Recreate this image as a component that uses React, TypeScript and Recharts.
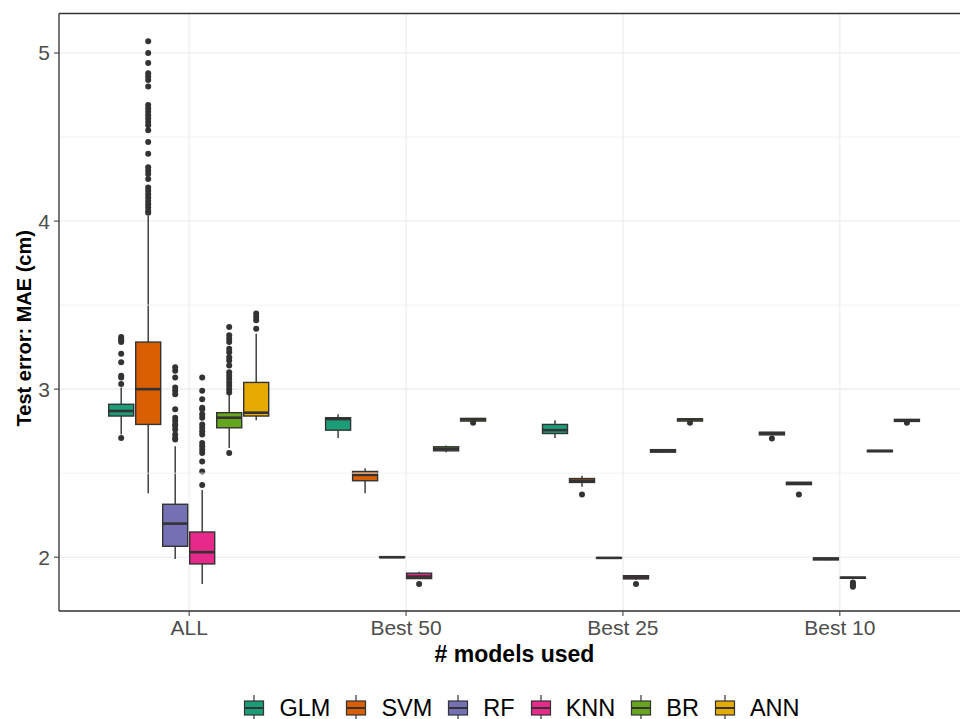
import React from "react";
import {
  BarChart,
  Bar,
  XAxis,
  YAxis,
  CartesianGrid,
  ReferenceLine,
  Legend,
} from "recharts";

const CATEGORIES = ["ALL", "Best 50", "Best 25", "Best 10"];
const MODELS = ["GLM", "SVM", "RF", "KNN", "BR", "ANN"];
const COLORS = ["#1B9E77", "#D95F02", "#7570B3", "#E7298A", "#66A61E", "#E6AB02"];
const Y_TICKS = [2, 3, 4, 5];
const MINOR_TICKS = [2.5, 3.5, 4.5];
const Y_MIN = 1.68;
const Y_MAX = 5.235;

// [lower whisker, q1, median, q3, upper whisker] per category
const GLM_STATS = [
  [2.73, 2.84, 2.87, 2.91, 3.01],
  [2.71, 2.756, 2.822, 2.83, 2.85],
  [2.71, 2.736, 2.756, 2.79, 2.815],
  [2.726, 2.728, 2.736, 2.744, 2.746],
];
const SVM_STATS = [
  [2.38, 2.79, 3.0, 3.28, 4.03],
  [2.38, 2.455, 2.49, 2.51, 2.53],
  [2.42, 2.445, 2.455, 2.468, 2.484],
  [2.43, 2.432, 2.44, 2.446, 2.448],
];
const RF_STATS = [
  [1.99, 2.065, 2.2, 2.315, 2.66],
  [1.997, 1.998, 2.0, 2.002, 2.004],
  [1.994, 1.995, 1.996, 1.997, 1.998],
  [1.982, 1.984, 1.99, 1.996, 1.998],
];
const KNN_STATS = [
  [1.84, 1.96, 2.03, 2.15, 2.4],
  [1.873, 1.873, 1.885, 1.905, 1.913],
  [1.865, 1.871, 1.88, 1.89, 1.892],
  [1.873, 1.875, 1.878, 1.881, 1.883],
];
const BR_STATS = [
  [2.65, 2.77, 2.83, 2.86, 2.97],
  [2.625, 2.633, 2.645, 2.657, 2.665],
  [2.623, 2.625, 2.633, 2.64, 2.643],
  [2.627, 2.628, 2.632, 2.636, 2.637],
];
const ANN_STATS = [
  [2.815, 2.84, 2.86, 3.04, 3.33],
  [2.81, 2.81, 2.82, 2.826, 2.827],
  [2.81, 2.81, 2.82, 2.823, 2.824],
  [2.805, 2.808, 2.815, 2.82, 2.823],
];

// outliers per category
const GLM_OUT = [
  [2.71, 3.03, 3.07, 3.08, 3.16, 3.21, 3.28, 3.29, 3.3, 3.31],
  [],
  [],
  [2.706],
];
const SVM_OUT = [
  [
    4.05, 4.06, 4.08, 4.1, 4.12, 4.14, 4.16, 4.18, 4.2, 4.25, 4.28, 4.3, 4.32,
    4.4, 4.47, 4.54, 4.57, 4.59, 4.61, 4.63, 4.65, 4.67, 4.69, 4.8, 4.84, 4.86,
    4.88, 4.94, 5.0, 5.07,
  ],
  [],
  [2.373],
  [2.373],
];
const RF_OUT = [
  [2.7, 2.71, 2.73, 2.76, 2.78, 2.79, 2.81, 2.83, 2.88, 2.97, 2.99, 3.01, 3.07, 3.11, 3.13],
  [],
  [],
  [],
];
const KNN_OUT = [
  [
    2.43, 2.51, 2.57, 2.62, 2.64, 2.66, 2.68, 2.73, 2.75, 2.77, 2.79, 2.83, 2.85,
    2.88, 2.89, 2.94, 2.99, 3.07,
  ],
  [1.84],
  [1.84],
  [1.85, 1.84, 1.83, 1.825],
];
const BR_OUT = [
  [
    2.62, 2.98, 3.0, 3.02, 3.04, 3.06, 3.08, 3.1, 3.14, 3.17, 3.19, 3.22, 3.24,
    3.28, 3.3, 3.32, 3.37,
  ],
  [],
  [],
  [],
];
const ANN_OUT = [[3.36, 3.41, 3.43, 3.45], [2.8], [2.8], [2.8]];

const STATS: Record<string, number[][]> = {
  GLM: GLM_STATS,
  SVM: SVM_STATS,
  RF: RF_STATS,
  KNN: KNN_STATS,
  BR: BR_STATS,
  ANN: ANN_STATS,
};
const OUTLIERS: Record<string, number[][]> = {
  GLM: GLM_OUT,
  SVM: SVM_OUT,
  RF: RF_OUT,
  KNN: KNN_OUT,
  BR: BR_OUT,
  ANN: ANN_OUT,
};

const chartData = CATEGORIES.map((category, i) => {
  const row: Record<string, unknown> = { category };
  MODELS.forEach((m) => {
    const s = STATS[m][i];
    const out = OUTLIERS[m][i];
    row[m] = [Math.min(s[0], ...out), Math.max(s[4], ...out)];
    row[`${m}_box`] = s;
    row[`${m}_out`] = out;
  });
  return row;
});

const FONT = "'Liberation Sans', Arial, sans-serif";
const INK = "#333333";

function BoxShape(props: any) {
  const { x, y, width, height, payload, model, color } = props;
  const range = payload[model] as number[];
  const s = payload[`${model}_box`] as number[];
  const out = payload[`${model}_out`] as number[];
  const lo = range[0];
  const hi = range[1];
  const top = Math.min(y, y + height);
  const bottom = Math.max(y, y + height);
  // linear scale: map values from the bar's own pixel range
  const toPx = (v: number) => bottom - ((v - lo) / (hi - lo)) * (bottom - top);
  const cx = x + width / 2;
  const yq1 = toPx(s[1]);
  const yq3 = toPx(s[3]);
  return (
    <g>
      <line x1={cx} x2={cx} y1={toPx(s[4])} y2={yq3} stroke={INK} strokeWidth={1.4} />
      <line x1={cx} x2={cx} y1={yq1} y2={toPx(s[0])} stroke={INK} strokeWidth={1.4} />
      <rect
        x={x}
        y={yq3}
        width={width}
        height={Math.max(yq1 - yq3, 0.5)}
        fill={color}
        stroke={INK}
        strokeWidth={1.4}
      />
      <line x1={x} x2={x + width} y1={toPx(s[2])} y2={toPx(s[2])} stroke={INK} strokeWidth={2.6} />
      {out.map((v, k) => (
        <circle key={k} cx={cx} cy={toPx(v)} r={3} fill={INK} />
      ))}
    </g>
  );
}

function LegendContent() {
  return (
    <div
      style={{
        height: 26,
        display: "flex",
        justifyContent: "center",
        alignItems: "center",
        fontFamily: FONT,
        fontSize: 23.5,
        color: "#000",
        transform: "translateY(2px)",
      }}
    >
      {MODELS.map((m, i) => (
        <div key={m} style={{ display: "flex", alignItems: "center", marginRight: 15 }}>
          <svg width={22} height={26} style={{ marginRight: 14 }}>
            <line x1={11} x2={11} y1={0} y2={26} stroke={INK} strokeWidth={1.2} />
            <rect x={1.5} y={6} width={19} height={14} fill={COLORS[i]} stroke={INK} strokeWidth={1.2} />
            <line x1={1.5} x2={20.5} y1={13} y2={13} stroke={INK} strokeWidth={2} />
          </svg>
          <span>{m}</span>
        </div>
      ))}
    </div>
  );
}

function YTitle(props: any) {
  const vb = props.viewBox || { x: 0, y: 13.5, width: 59, height: 597 };
  const cx = vb.x + 24;
  const cy = vb.y + vb.height / 2 + 16;
  return (
    <text
      transform={`translate(${cx},${cy}) rotate(-90)`}
      textAnchor="middle"
      dominantBaseline="central"
      fill="#000"
      fontSize={20}
      fontWeight="bold"
      fontFamily={FONT}
    >
      Test error: MAE (cm)
    </text>
  );
}

export default function App() {
  return (
    <div
      style={{
        position: "absolute",
        left: 0,
        top: 0,
        width: 960,
        height: 719,
        overflow: "hidden",
        background: "#fff",
      }}
    >
      <BarChart
        width={971}
        height={719}
        data={chartData}
        margin={{ top: 13.5, right: 1, bottom: 0, left: 0 }}
        barSize={25}
        barGap={2}
        style={{ fontFamily: FONT }}
      >
        <CartesianGrid stroke="#EBEBEB" strokeWidth={1.1} />
        {MINOR_TICKS.map((t) => (
          <ReferenceLine key={t} y={t} stroke="#F0F0F0" strokeWidth={0.8} />
        ))}
        <XAxis
          dataKey="category"
          padding={{ left: 21.7, right: 21.7 }}
          height={82}
          tickSize={5}
          tickMargin={4}
          axisLine={{ stroke: INK, strokeWidth: 1.3 }}
          tickLine={{ stroke: INK }}
          tick={{ fill: "#4D4D4D", fontSize: 21 }}
          label={{
            value: "# models used",
            position: "insideTop",
            offset: 35,
            fill: "#000",
            fontSize: 23,
            fontWeight: "bold",
          }}
        />
        <YAxis
          type="number"
          domain={[Y_MIN, Y_MAX]}
          ticks={Y_TICKS}
          allowDataOverflow
          width={59}
          tickSize={5}
          tickMargin={4}
          axisLine={{ stroke: INK, strokeWidth: 1.3 }}
          tickLine={{ stroke: INK }}
          tick={{ fill: "#4D4D4D", fontSize: 21 }}
          label={{ content: (p: any) => <YTitle {...p} /> }}
        />
        <ReferenceLine y={Y_MAX} stroke={INK} strokeWidth={1.3} />
        {MODELS.map((m, i) => (
          <Bar
            key={m}
            dataKey={m}
            name={m}
            fill={COLORS[i]}
            isAnimationActive={false}
            shape={(p: any) => <BoxShape {...p} model={m} color={COLORS[i]} />}
          />
        ))}
        <Legend
          verticalAlign="bottom"
          content={() => <LegendContent />}
          wrapperStyle={{ left: 0, width: 1058 }}
        />
      </BarChart>
    </div>
  );
}
